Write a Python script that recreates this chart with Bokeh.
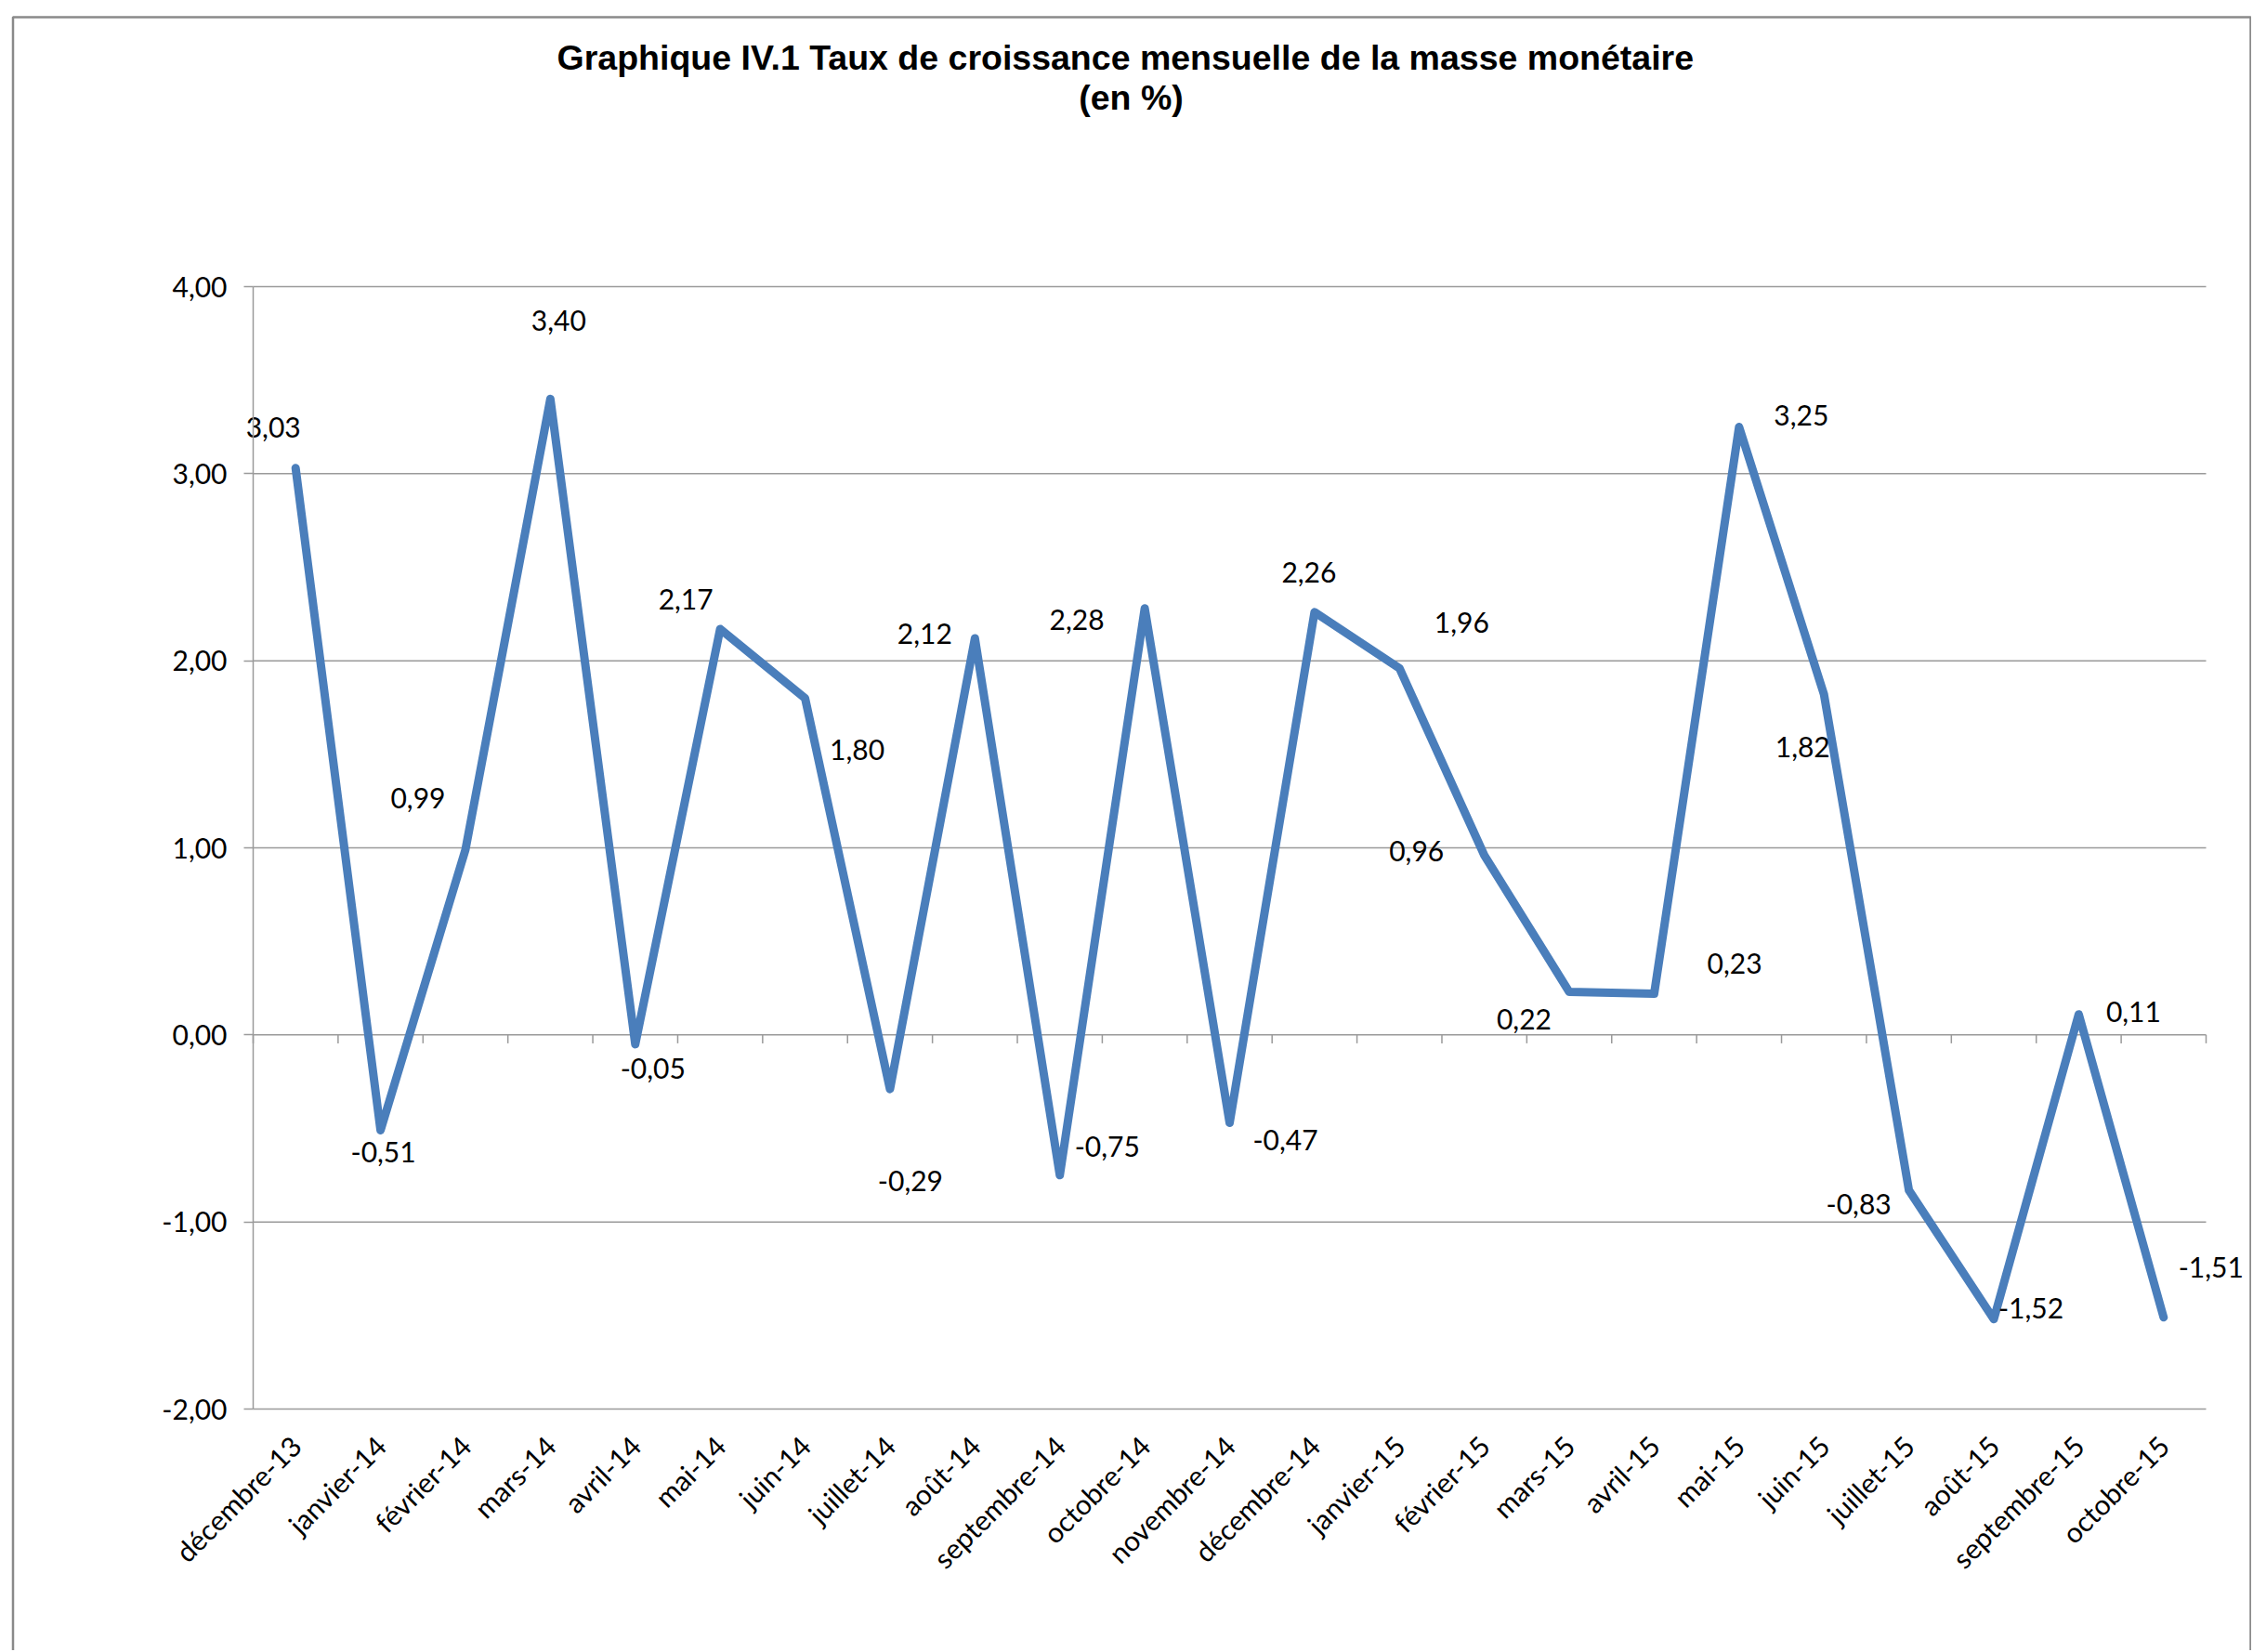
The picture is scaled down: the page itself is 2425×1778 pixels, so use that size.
import math
from bokeh.plotting import figure
from bokeh.models import Range1d, FixedTicker, Label, ColumnDataSource, LinearAxis
from bokeh.embed import file_html
from bokeh.resources import INLINE
from bokeh.core.properties import value

# ---- data ----
categories = ["décembre-13", "janvier-14", "février-14", "mars-14", "avril-14", "mai-14",
              "juin-14", "juillet-14", "août-14", "septembre-14", "octobre-14", "novembre-14",
              "décembre-14", "janvier-15", "février-15", "mars-15", "avril-15", "mai-15",
              "juin-15", "juillet-15", "août-15", "septembre-15", "octobre-15"]
growth = [3.03, -0.51, 0.99, 3.40, -0.05, 2.17, 1.80, -0.29, 2.12, -0.75, 2.28, -0.47,
          2.26, 1.96, 0.96, 0.23, 0.22, 3.25, 1.82, -0.83, -1.52, 0.11, -1.51]
y_ticks = [-2, -1, 0, 1, 2, 3, 4]
y_tick_labels = ["-2,00", "-1,00", "0,00", "1,00", "2,00", "3,00", "4,00"]
title_lines = ["Graphique IV.1 Taux de croissance  mensuelle de la masse monétaire", "(en %)"]

# label placement offsets in pixels (style, not data)
label_dx = [-24, 3, -51, 9, 19, -37, 56, 22, -54, 51, -73, 60, -6, 67, -73, 178, -140, 67, -23, -54, 40, 59, 51]
label_dy = [-44, 23, -56, -84, 26, -32, 56, 99, -5, -31, 12, 19, -43, -49, -5, -31, 27, -13, 57, 15, -12, -3, -54]

# ---- layout geometry (canvas pixels) ----
W, H = 2423, 1776
X0_PX, X1_PX = 272, 2374        # left / right edge of the plot area
Y_TOP_PX, Y_BOT_PX = 308, 1516  # top / bottom edge of the plot area

n = len(categories)
xs = (X1_PX - X0_PX) / n
ys = (Y_BOT_PX - Y_TOP_PX) / (y_ticks[-1] - y_ticks[0])
x_start = -X0_PX / xs
x_end = n + (W - X1_PX) / xs
y_end = y_ticks[-1] + Y_TOP_PX / ys
y_start = y_ticks[0] - (H - Y_BOT_PX) / ys


def cx(px):
    return x_start + px / xs


def cy(py):
    return y_end - py / ys


p = figure(width=W, height=H, x_range=Range1d(x_start, x_end), y_range=Range1d(y_start, y_end),
           output_backend="svg", toolbar_location=None,
           x_axis_location=None, y_axis_location=None,
           min_border_left=0, min_border_right=0, min_border_top=0, min_border_bottom=0)
p.outline_line_color = None
p.background_fill_color = "white"
p.border_fill_color = "white"
p.grid.visible = False

GRAY = "#9a9a9a"
FONT = "Lato"
FS = "30px"

centers = [i + 0.5 for i in range(n)]
bounds = list(range(n + 1))

# outer chart frame (left, top, right edges; bottom is off-page)
p.line(x=[cx(13.5), cx(13.5), cx(2422), cx(2422)],
       y=[cy(H + 20), cy(18), cy(18), cy(H + 20)],
       line_color="#8a8a8a", line_width=2.5)

# horizontal gridlines across the plot area
p.segment(x0=[0] * len(y_ticks), x1=[n] * len(y_ticks), y0=y_ticks, y1=y_ticks,
          line_color=GRAY, line_width=1.5)
# tick marks on the zero line at category boundaries
p.segment(x0=bounds, x1=bounds, y0=[0] * len(bounds), y1=[-0.045] * len(bounds),
          line_color=GRAY, line_width=1.5)

yaxis = LinearAxis(ticker=FixedTicker(ticks=y_ticks), fixed_location=0,
                   bounds=(y_ticks[0], y_ticks[-1]))
yaxis.major_label_overrides = dict(zip(y_ticks, y_tick_labels))
yaxis.axis_line_color = GRAY
yaxis.axis_line_width = 1.5
yaxis.major_tick_line_color = GRAY
yaxis.major_tick_line_width = 1.5
yaxis.major_tick_out = 10
yaxis.major_tick_in = 0
yaxis.minor_tick_line_color = None
yaxis.major_label_standoff = 18
yaxis.major_label_text_font = FONT
yaxis.major_label_text_font_size = FS
yaxis.major_label_text_color = "black"
p.add_layout(yaxis, "left")

xaxis = LinearAxis(ticker=FixedTicker(ticks=centers), fixed_location=y_ticks[0])
xaxis.major_label_overrides = dict(zip(centers, categories))
xaxis.axis_line_color = None
xaxis.major_tick_line_color = None
xaxis.minor_tick_line_color = None
xaxis.major_label_orientation = math.pi / 4
xaxis.major_label_standoff = 28
xaxis.major_label_text_font = FONT
xaxis.major_label_text_font_size = FS
xaxis.major_label_text_color = "black"
p.add_layout(xaxis, "below")

src = ColumnDataSource(dict(
    x=centers, y=growth,
    txt=[f"{v:.2f}".replace(".", ",") for v in growth],
    dx=label_dx, dy=label_dy))
p.line(x="x", y="y", source=src, line_color="#4A7EBB", line_width=9,
       line_join="round", line_cap="round")
p.text(x="x", y="y", text="txt", source=src, x_offset="dx", y_offset="dy",
       text_align="center", text_baseline="middle", text_font=value(FONT),
       text_font_size=FS, text_color="black")

p.add_layout(Label(x=cx(1216), y=cy(61), text=title_lines[0],
                   text_align="center", text_baseline="middle", text_font="Liberation Sans",
                   text_font_style="bold", text_font_size="37.5px", text_color="black"))
p.add_layout(Label(x=cx(1217), y=cy(104), text=title_lines[1],
                   text_align="center", text_baseline="middle", text_font="Liberation Sans",
                   text_font_style="bold", text_font_size="37.5px", text_color="black"))

open("out.html", "w").write(file_html(p, INLINE))
